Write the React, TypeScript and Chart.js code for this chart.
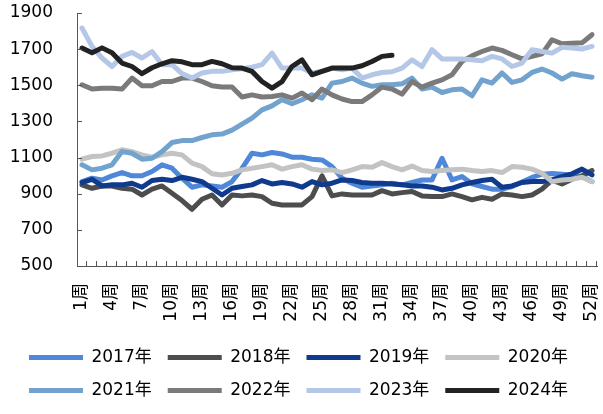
import React, { useEffect, useRef } from 'react';
import { Chart, registerables } from 'chart.js';

Chart.register(...registerables);

const weeks: string[] = Array.from({ length: 52 }, (_, i) => `${i + 1}周`);
const yTicks = [500, 700, 900, 1100, 1300, 1500, 1700, 1900];

const seriesNames = ['2017年', '2018年', '2019年', '2020年', '2021年', '2022年', '2023年', '2024年'];
const seriesColors = ['#4F88D8', '#4D4D4D', '#103A8E', '#C3C3C3', '#72A3CE', '#7A7A7A', '#B4C7E7', '#222222'];

const v2017 = [967, 986, 976, 999, 1017, 999, 999, 1023, 1060, 1041, 986, 936, 949, 943, 936, 967, 1040, 1124, 1115, 1128, 1120, 1102, 1102, 1091, 1087, 1050, 986, 958, 936, 943, 949, 958, 949, 962, 976, 976, 1096, 976, 995, 955, 940, 925, 925, 940, 965, 990, 1008, 1012, 1008, 1003, 995, 967];
const v2018 = [949, 930, 943, 943, 930, 925, 893, 925, 943, 903, 862, 814, 869, 893, 838, 893, 888, 893, 884, 847, 838, 838, 838, 884, 999, 888, 899, 893, 893, 893, 917, 899, 906, 912, 888, 884, 884, 899, 884, 866, 880, 869, 899, 893, 884, 893, 925, 975, 954, 980, 999, 1028];
const v2019 = [962, 980, 943, 949, 949, 958, 936, 973, 980, 973, 991, 980, 967, 930, 893, 930, 940, 949, 973, 954, 962, 954, 936, 967, 949, 958, 976, 973, 962, 958, 958, 954, 949, 943, 943, 936, 921, 930, 949, 962, 973, 980, 936, 943, 962, 967, 967, 976, 995, 1010, 1036, 1004];
const v2020 = [1091, 1106, 1109, 1124, 1143, 1133, 1115, 1102, 1115, 1124, 1115, 1069, 1050, 1010, 1004, 1013, 1032, 1041, 1050, 1060, 1036, 1050, 1060, 1036, 1028, 1032, 1017, 1032, 1050, 1046, 1072, 1050, 1032, 1053, 1028, 1023, 1028, 1032, 1036, 1028, 1023, 1028, 1017, 1050, 1046, 1036, 1013, 967, 976, 980, 991, 967];
const v2021 = [1060, 1032, 1041, 1060, 1133, 1124, 1091, 1096, 1133, 1183, 1194, 1194, 1211, 1226, 1230, 1252, 1285, 1318, 1364, 1386, 1420, 1398, 1420, 1447, 1429, 1512, 1521, 1540, 1512, 1494, 1503, 1503, 1508, 1540, 1479, 1490, 1460, 1475, 1479, 1442, 1530, 1512, 1568, 1516, 1530, 1571, 1590, 1568, 1534, 1564, 1553, 1545];
const v2022 = [1503, 1479, 1484, 1484, 1479, 1540, 1497, 1497, 1521, 1521, 1540, 1540, 1521, 1497, 1490, 1490, 1435, 1447, 1435, 1438, 1447, 1429, 1457, 1420, 1479, 1447, 1424, 1410, 1410, 1447, 1490, 1479, 1451, 1521, 1490, 1512, 1530, 1558, 1632, 1663, 1687, 1706, 1693, 1669, 1646, 1660, 1674, 1752, 1730, 1733, 1735, 1780];
const v2023 = [1817, 1715, 1651, 1604, 1660, 1682, 1651, 1687, 1614, 1614, 1565, 1540, 1568, 1577, 1577, 1586, 1592, 1600, 1614, 1678, 1595, 1595, 1595, 1568, 1577, 1595, 1586, 1595, 1540, 1558, 1571, 1575, 1595, 1641, 1604, 1697, 1646, 1646, 1646, 1641, 1636, 1660, 1646, 1604, 1623, 1697, 1687, 1678, 1710, 1706, 1701, 1715];
const v2024 = [1706, 1680, 1707, 1680, 1623, 1604, 1564, 1597, 1619, 1636, 1630, 1614, 1614, 1632, 1619, 1597, 1595, 1577, 1521, 1484, 1520, 1604, 1641, 1558, 1577, 1595, 1595, 1595, 1608, 1632, 1660, 1666];

const seriesValues = [v2017, v2018, v2019, v2020, v2021, v2022, v2023, v2024];

const FONT = 'DejaVu Sans, "Noto Sans CJK SC", sans-serif';
const AXIS = '#555555';

const insideTicks = {
  id: 'insideTicks',
  afterDatasetsDraw(chart: any) {
    const { ctx, chartArea, scales } = chart;
    const xs = scales.x;
    const ys = scales.y;
    ctx.save();
    ctx.strokeStyle = AXIS;
    ctx.lineWidth = 1;
    ctx.beginPath();
    yTicks.forEach((v) => {
      const py = Math.round(ys.getPixelForValue(v)) + 0.5;
      ctx.moveTo(chartArea.left, py);
      ctx.lineTo(chartArea.left + 5, py);
    });
    for (let i = 0; i < weeks.length; i++) {
      const px = Math.round(xs.getPixelForValue(i + 0.5)) - 0.5;
      ctx.moveTo(px, chartArea.bottom);
      ctx.lineTo(px, chartArea.bottom - 5);
    }
    ctx.stroke();
    ctx.restore();
  },
};

export default function App() {
  const ref = useRef<HTMLCanvasElement | null>(null);

  useEffect(() => {
    const canvas = ref.current;
    if (!canvas) return;
    const chart = new Chart(canvas, {
      type: 'line',
      data: {
        labels: weeks,
        datasets: seriesNames.map((name, i) => ({
          label: name,
          data: seriesValues[i],
          borderColor: seriesColors[i],
          backgroundColor: seriesColors[i],
          borderWidth: 5,
          pointRadius: 0,
          pointHoverRadius: 0,
          tension: 0,
          fill: false,
          borderCapStyle: 'round',
          borderJoinStyle: 'round',
          order: seriesNames.length - i,
        })),
      },
      plugins: [insideTicks],
      options: {
        responsive: false,
        maintainAspectRatio: false,
        animation: false,
        layout: { padding: { top: 13, right: 6, bottom: 5, left: 0 } },
        plugins: {
          tooltip: { enabled: false },
          legend: {
            position: 'bottom',
            labels: {
              usePointStyle: true,
              pointStyle: 'line',
              pointStyleWidth: 54,
              padding: 16,
              color: '#000',
              font: { family: FONT, size: 17 },
              sort: (a: any, b: any) => a.datasetIndex - b.datasetIndex,
            },
          },
        },
        scales: {
          x: {
            type: 'category',
            offset: true,
            grid: {
              display: true,
              drawOnChartArea: false,
              offset: true,
              tickLength: 17,
              tickColor: 'rgba(0,0,0,0)',
              color: 'rgba(0,0,0,0)',
            },
            border: { display: true, color: AXIS, width: 1 },
            ticks: {
              autoSkip: false,
              minRotation: 90,
              maxRotation: 90,
              padding: 0,
              color: '#000',
              font: { family: FONT, size: 17, lineHeight: 0.6 },
              callback: (_v: any, i: number) => (i % 3 === 0 ? weeks[i] : ''),
            },
            afterFit: (s: any) => {
              s.height = 67;
            },
          },
          y: {
            min: yTicks[0],
            max: yTicks[yTicks.length - 1],
            afterBuildTicks: (s: any) => {
              s.ticks = yTicks.map((v) => ({ value: v }));
            },
            grid: {
              display: true,
              drawOnChartArea: false,
              tickLength: 24,
              tickColor: 'rgba(0,0,0,0)',
              color: 'rgba(0,0,0,0)',
            },
            border: { display: true, color: AXIS, width: 1 },
            ticks: {
              padding: 0,
              color: '#000',
              font: { family: FONT, size: 17 },
              callback: (v: any) => String(v),
            },
            afterFit: (s: any) => {
              s.width = 77;
            },
          },
        },
      },
    });
    return () => chart.destroy();
  }, []);

  return (
    <div style={{ position: 'absolute', left: 0, top: 0, width: 603, height: 414 }}>
      <canvas ref={ref} width={603} height={414} style={{ width: 603, height: 414 }} />
    </div>
  );
}
